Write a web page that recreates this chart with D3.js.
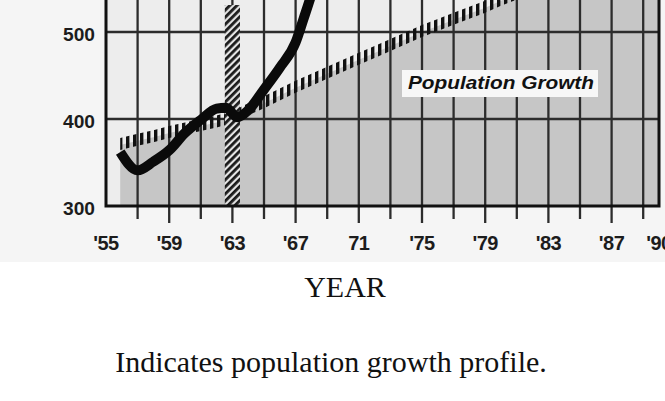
<!DOCTYPE html>
<meta charset="utf-8">
<head>
<script src="https://cdn.jsdelivr.net/npm/d3@7"></script>
<style>
  body { margin: 0; background: #fff; }
  svg { display: block; }
</style>
</head>
<body>
<div id="chart"></div>
<script>

// data
var tickYears  = [55, 59, 63, 67, 71, 75, 79, 83, 87, 90];
var tickLabels = ["'55", "'59", "'63", "'67", "71", "'75", "'79", "'83", "'87", "'90"];
var gridYears  = [57, 59, 61, 63, 65, 67, 69, 71, 73, 75, 77, 79, 81, 83, 85, 87, 89];
var yTicks     = [300, 400, 500];

// population growth (dotted line + gray fill)
var popYears  = [55.9, 57, 58, 59, 60, 61, 62, 63, 64, 65, 66, 67, 68, 69, 70, 71, 72, 73, 74, 75, 76, 77, 78, 79, 80, 81, 82, 83, 84, 85, 86, 87, 88, 89, 90];
var popValues = [370, 375, 379, 384, 388, 392, 396, 401, 410, 418, 427, 436, 444, 452, 460, 468, 476, 484, 492, 500, 507, 514, 521, 528, 536, 543, 550, 557, 564, 571, 578, 585, 592, 599, 606];

// the thick black series
var lineYears  = [55.9, 57, 58, 59, 60, 61, 62, 62.6, 63.3, 64, 65, 66, 67, 67.5, 68, 68.5];
var lineValues = [362, 341, 351, 364, 384, 399, 412, 413, 402, 410, 434, 459, 488, 515, 543, 575];

// hatched marker bar at '63
var markerYear = 63, markerTop = 531;

var width = 665, height = 401;

var svg = d3.select("#chart").append("svg")
  .attr("width", width)
  .attr("height", height);

var x = d3.scaleLinear().domain([55, 90]).range([106, 659]);
var y = d3.scaleLinear().domain([300, 500]).range([206, 32]);

var defs = svg.append("defs");

// vertical stripes for the dotted population line
var dash = defs.append("pattern")
  .attr("id", "dash")
  .attr("patternUnits", "userSpaceOnUse")
  .attr("width", 7).attr("height", 12);
dash.append("rect").attr("width", 3.4).attr("height", 12).attr("fill", "#111");

// diagonal hatch for the '63 bar
var hatch = defs.append("pattern")
  .attr("id", "hatch")
  .attr("patternUnits", "userSpaceOnUse")
  .attr("width", 5).attr("height", 5)
  .attr("patternTransform", "rotate(45)");
hatch.append("rect").attr("width", 5).attr("height", 5).attr("fill", "#e4e4e4");
hatch.append("rect").attr("width", 2.8).attr("height", 5).attr("fill", "#1a1a1a");

// scanned backdrop
svg.append("rect")
  .attr("width", width).attr("height", 262)
  .attr("fill", "#f5f5f5");

// plot area
svg.append("rect")
  .attr("x", x(55)).attr("y", 0)
  .attr("width", x(90) - x(55)).attr("height", y(300))
  .attr("fill", "#ededed");

var pop = popYears.map(function(d, i) { return { year: d, value: popValues[i] }; });

var area = d3.area()
  .x(function(d) { return x(d.year); })
  .y0(y(300))
  .y1(function(d) { return y(d.value); });

svg.append("path")
  .datum(pop)
  .attr("d", area)
  .attr("fill", "#c6c6c6");

// vertical grid lines, continuing below the axis as ticks
svg.append("g")
  .selectAll("line")
  .data(gridYears)
  .enter().append("line")
  .attr("x1", function(d) { return x(d); })
  .attr("x2", function(d) { return x(d); })
  .attr("y1", 0)
  .attr("y2", function(d) { return tickYears.indexOf(d) >= 0 ? y(300) + 17 : y(300) + 13; })
  .attr("stroke", "#2c2c2c")
  .attr("stroke-width", 2.3);

// horizontal grid lines
svg.append("g")
  .selectAll("line")
  .data(yTicks.slice(1))
  .enter().append("line")
  .attr("x1", x(55)).attr("x2", x(90))
  .attr("y1", function(d) { return y(d); })
  .attr("y2", function(d) { return y(d); })
  .attr("stroke", "#2c2c2c")
  .attr("stroke-width", 2.5);

// dotted population growth line
var band = d3.area()
  .x(function(d) { return x(d.year); })
  .y0(function(d) { return y(d.value) + 5; })
  .y1(function(d) { return y(d.value) - 7; });

svg.append("path")
  .datum(pop)
  .attr("d", band)
  .attr("fill", "url(#dash)");

// hatched bar
svg.append("rect")
  .attr("x", x(markerYear - 0.48))
  .attr("y", y(markerTop))
  .attr("width", x(markerYear + 0.48) - x(markerYear - 0.48))
  .attr("height", y(300) - y(markerTop))
  .attr("fill", "url(#hatch)");

// thick black line
var series = lineYears.map(function(d, i) { return { year: d, value: lineValues[i] }; });

var line = d3.line()
  .x(function(d) { return x(d.year); })
  .y(function(d) { return y(d.value); })
  .curve(d3.curveMonotoneX);

svg.append("path")
  .datum(series)
  .attr("d", line)
  .attr("fill", "none")
  .attr("stroke", "#0a0a0a")
  .attr("stroke-width", 10)
  .attr("stroke-linejoin", "round");

// "Population Growth" label
svg.append("rect")
  .attr("x", 402).attr("y", 70)
  .attr("width", 196).attr("height", 27)
  .attr("fill", "#f7f7f7");

svg.append("text")
  .attr("x", 408).attr("y", 89)
  .attr("textLength", 186)
  .attr("lengthAdjust", "spacingAndGlyphs")
  .style("font", "italic bold 18px 'Liberation Sans', Arial, sans-serif")
  .attr("fill", "#111")
  .text("Population Growth");

// frame
svg.append("path")
  .attr("d", "M" + x(55) + ",0V" + y(300) + "H" + x(90) + "V0")
  .attr("fill", "none")
  .attr("stroke", "#111")
  .attr("stroke-width", 3);

// y labels
svg.append("g")
  .selectAll("text")
  .data(yTicks)
  .enter().append("text")
  .attr("x", 95)
  .attr("y", function(d) { return y(d) + 9; })
  .attr("text-anchor", "end")
  .attr("textLength", 32)
  .attr("lengthAdjust", "spacingAndGlyphs")
  .style("font", "bold 19px 'Liberation Sans', Arial, sans-serif")
  .attr("fill", "#1c1c1c")
  .text(function(d) { return d; });

// x labels
svg.append("g")
  .selectAll("text")
  .data(tickYears)
  .enter().append("text")
  .attr("x", function(d) { return x(d); })
  .attr("y", 250)
  .attr("text-anchor", "middle")
  .style("font", "bold 20px 'Liberation Sans', Arial, sans-serif")
  .style("letter-spacing", "-0.5px")
  .attr("fill", "#1c1c1c")
  .text(function(d, i) { return tickLabels[i]; });

// titles below
svg.append("text")
  .attr("x", 345).attr("y", 297)
  .attr("text-anchor", "middle")
  .style("font", "30px 'Liberation Serif', 'Times New Roman', serif")
  .attr("fill", "#111")
  .text("YEAR");

svg.append("text")
  .attr("x", 331).attr("y", 372)
  .attr("text-anchor", "middle")
  .style("font", "30px 'Liberation Serif', 'Times New Roman', serif")
  .attr("fill", "#111")
  .text("Indicates population growth profile.");

</script>
</body>
